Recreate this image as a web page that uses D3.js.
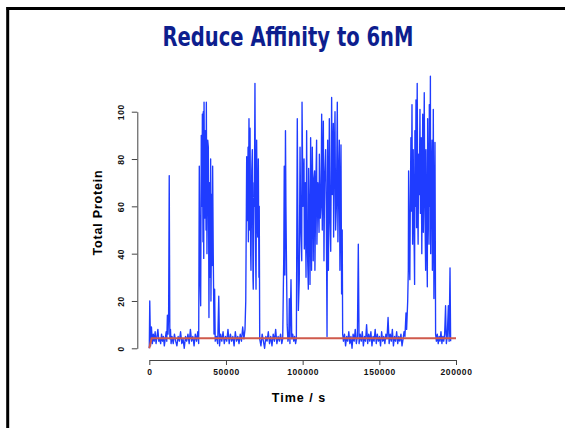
<!DOCTYPE html>
<html>
<head>
<meta charset="utf-8">
<script src="https://cdn.jsdelivr.net/npm/d3@7"></script>
<style>
  body { margin: 0; background: #fff; }
  svg { display: block; }
  .axis path, .axis line { stroke: #444; stroke-width: 1; }
  .axis text { font-family: "Liberation Sans", Arial, sans-serif; font-weight: bold; font-size: 8.5px; fill: #111; letter-spacing: 0.6px; }
</style>
</head>
<body>
<script>
// tick labels
const timeTicks = [0, 50000, 100000, 150000, 200000];
const proteinTicks = [0, 20, 40, 60, 80, 100];

// simulated trace: [time (s), total protein]
const trace = [
  [0,0],[300,20],[800,1],[1400,9],[2000,2],[2600,6],[3200,3],[3800,7],[4400,2],[5000,5],[5600,8],[6200,3],
  [6800,4],[7400,2],[8000,6],[8600,3],[9200,5],[9800,1],[10400,4],[11000,7],[11400,3],[11800,14],[12200,6],
  [12600,14],[13000,73],[13400,4],[13800,8],[14200,2],
  [14800,5],[15600,2],[16400,6],[17200,3],[18000,1],[18800,5],[19600,3],[20400,7],[21200,2],[22000,4],[22800,0],
  [23600,5],[24400,3],[25200,6],[26000,2],[26800,8],[27600,3],[28400,5],[29200,1],[30000,6],[30800,3],[31600,7],[32200,2],
  // burst 1
  [32600,77],[33100,30],[33500,18],[33900,90],[34400,60],[34600,99],[35000,45],[35200,100],[35500,38],[35700,104],
  [36100,55],[36500,92],[37000,50],[37200,104],[37600,40],[38100,88],[38500,85],[38900,13],[39200,70],[39700,30],
  [40000,80],[40200,20],[40700,65],[40900,35],[41300,77],[41700,40],[42200,6],[42600,25],
  [43000,3],[43800,5],[44600,2],[45300,22],[45800,1],[46500,6],[47300,3],[48100,7],[48900,2],[49700,5],[50500,3],
  [51300,8],[52100,2],[52900,6],[53700,3],[54500,5],[55300,1],[56100,7],[56900,3],[57700,5],[58500,2],[59300,6],
  [60100,3],[60900,9],[61700,4],
  // burst 2
  [62400,8],[62900,20],[63300,60],[63500,81],[63900,54],[64400,85],[64600,45],[65000,97],[65500,50],[65700,93],
  [66100,40],[66300,33],[66800,75],[67200,84],[67600,30],[67800,25],[68300,70],[68500,60],[68900,112],[69400,35],
  [69600,25],[70000,88],[70400,55],[70700,47],[71100,80],[71500,30],[71700,60],
  [72000,4],[72800,1],[73600,6],[74400,3],[75200,0],[76000,5],[76800,3],[77600,7],[78400,2],[79200,5],[80000,1],
  [80800,6],[81600,3],[82400,8],[83200,2],[84000,5],[84800,3],[85600,6],[86400,2],[87000,4],
  // burst 3
  [87700,40],[88000,77],[88400,31],[88800,92],[89100,60],[89500,33],[89900,10],
  [90400,3],[91000,5],[91300,21],[91700,2],[92400,29],[92900,4],[93500,6],[94200,3],[94800,5],[95400,2],[95900,4],
  [96500,97],[97200,16],[97800,29],[98300,85],[98800,50],[99400,37],[99600,104],[100200,60],[100900,80],[101100,42],
  [101700,70],[102200,30],[102600,92],[103000,45],[103700,25],[103900,76],[104500,50],[104800,27],[105200,89],
  [105600,55],[105800,33],[106300,85],[106700,60],[106900,37],[107400,72],[107800,75],[108000,33],[108500,65],
  [109100,88],[109300,44],[109900,70],[110700,49],[110900,82],[111500,55],[112000,62],[112400,99],[112800,50],
  [113100,75],[113500,96],[113900,37],[114300,70],[115000,84],[115400,60],[115900,5],[116300,88],[116800,33],
  [117400,97],[117800,55],[118300,41],[118900,106],[119300,65],[120000,95],[120200,47],[120600,78],[121100,100],
  [121500,50],[122000,60],[122600,104],[123000,45],[123400,70],[123900,88],[124300,33],[124700,65],[125000,86],
  [125400,23],[125800,50],[126100,6],
  [126600,3],[127300,6],[128000,1],[128700,5],[129400,3],[130100,7],[130800,2],[131500,5],[132200,0],[132900,6],
  [133600,3],[134300,8],[135000,2],[135700,5],[136300,44],[136800,2],[137500,6],[138200,3],[138900,7],[139600,1],
  [140300,5],[141000,3],[141700,10],[142400,2],[143100,6],[143800,3],[144500,7],[145200,1],[145900,5],[146600,3],
  [147300,8],[148000,2],[148700,6],[149400,3],[150100,5],[150800,1],[151500,7],[152200,3],[152900,5],[153600,2],
  [154300,6],[155000,4],[155700,13],[156400,2],[157100,6],[157800,3],[158500,8],[159200,1],[159900,5],[160600,3],
  [161300,7],[162000,2],[162700,5],[163400,3],[164100,6],[164800,1],[165500,4],[166100,7],[166700,5],
  // burst 4
  [167400,15],[167800,8],[168500,20],[168900,33],[169100,75],[169500,40],[169900,29],[170200,60],[170600,89],
  [170900,58],[171300,103],[171700,44],[172100,84],[172600,50],[173000,27],[173200,92],[173600,60],[173900,105],
  [174300,51],[174700,112],[175100,55],[175300,44],[175600,82],[176100,65],[176500,101],[176800,57],[177300,89],
  [177700,40],[178000,70],[178300,99],[178700,49],[179000,75],[179300,108],[179700,60],[180200,33],[180400,84],
  [180800,55],[181300,26],[181500,97],[182000,62],[182400,44],[182600,103],[183000,60],[183300,115],[183500,40],
  [183900,70],[184400,88],[184600,33],[185000,65],[185200,101],[185600,21],[186000,55],[186300,87],[186700,6],
  [187200,3],[187800,6],[188400,2],[189000,5],[189600,3],[190200,7],[190800,2],[191400,5],[192000,3],[192600,6],
  [193200,18],[193700,2],[194300,5],[195000,18],[195500,3],[196100,34],[196500,3]
];

// deterministic mean level
const meanLevel = [[0,0],[1500,4.2],[200000,4.2]];

const W = 565, H = 428;
const svg = d3.select("body").append("svg").attr("width", W).attr("height", H);

// slide frame (top and left edges only are in view)
svg.append("line").attr("x1", 6.5).attr("x2", W).attr("y1", 8.5).attr("y2", 8.5)
   .attr("stroke", "#000").attr("stroke-width", 3);
svg.append("line").attr("x1", 7.7).attr("x2", 7.7).attr("y1", 7).attr("y2", H)
   .attr("stroke", "#000").attr("stroke-width", 3);

svg.append("text")
   .attr("x", 288).attr("y", 46)
   .attr("text-anchor", "middle")
   .attr("textLength", 251).attr("lengthAdjust", "spacingAndGlyphs")
   .style("font-family", "'Liberation Sans Narrow', 'DejaVu Sans Condensed', sans-serif")
   .style("font-weight", "bold").style("font-size", "27px").style("fill", "#0d1e8e")
   .text("Reduce Affinity to 6nM");

let x = d3.scaleLinear().domain([0, 200000]).range([149.3, 456]);
let y = d3.scaleLinear().domain([0, 100]).range([348.3, 111.7]);

let line = d3.line().x(d => x(d[0])).y(d => y(d[1]));

svg.append("path").datum(trace).attr("d", line)
   .attr("fill", "none").attr("stroke", "#1f3cff").attr("stroke-width", 1.35)
   .attr("stroke-linejoin", "round");

svg.append("path").datum(meanLevel).attr("d", line)
   .attr("fill", "none").attr("stroke", "#cf5a4c").attr("stroke-width", 2);

// x axis
let xAxis = svg.append("g").attr("class", "axis").attr("transform", "translate(0,360)")
   .call(d3.axisBottom(x).tickValues(timeTicks).tickSize(5).tickSizeOuter(0).tickFormat(d3.format("d")));
xAxis.selectAll("text").attr("y", 12).attr("dy", "0.32em");

// y axis, labels turned parallel to the axis
let yAxis = svg.append("g").attr("class", "axis").attr("transform", "translate(137.3,0)")
   .call(d3.axisLeft(y).tickValues(proteinTicks).tickSize(5.5).tickSizeOuter(0));
yAxis.selectAll("text")
   .attr("transform", "rotate(-90)")
   .attr("x", 0).attr("y", -13.8).attr("dy", 0)
   .attr("text-anchor", "middle");

svg.append("text")
   .attr("x", 299).attr("y", 402)
   .attr("text-anchor", "middle")
   .style("font-family", "'Liberation Sans', Arial, sans-serif")
   .style("font-weight", "bold").style("font-size", "12.5px").style("letter-spacing", "1px")
   .text("Time / s");

svg.append("text")
   .attr("transform", "translate(101.5,212.5) rotate(-90)")
   .attr("text-anchor", "middle")
   .style("font-family", "'Liberation Sans', Arial, sans-serif")
   .style("font-weight", "bold").style("font-size", "12.5px").style("letter-spacing", "0.8px")
   .text("Total Protein");
</script>
</body>
</html>
